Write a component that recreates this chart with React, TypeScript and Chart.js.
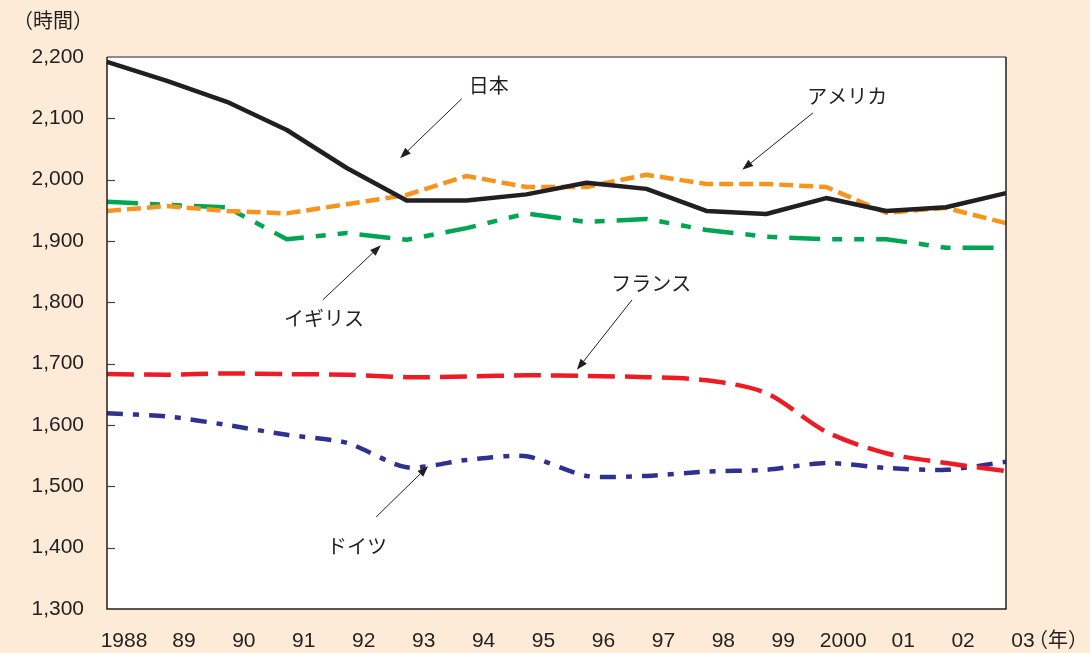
import React, { useEffect, useRef } from "react";
import { Chart, registerables } from "chart.js";

Chart.register(...registerables);

// Annual working hours by country, 1988–2003
const years = ["1988", "89", "90", "91", "92", "93", "94", "95", "96", "97", "98", "99", "2000", "01", "02", "03"];
const japan = [2192, 2161, 2127, 2081, 2019, 1966, 1966, 1976, 1995, 1985, 1949, 1944, 1970, 1949, 1955, 1978];
const usa = [1949, 1957, 1949, 1945, 1960, 1975, 2006, 1988, 1988, 2008, 1993, 1993, 1988, 1946, 1954, 1929];
const uk = [1964, 1959, 1955, 1903, 1913, 1902, 1921, 1945, 1931, 1936, 1918, 1907, 1903, 1903, 1889, 1889];
const france = [1683, 1682, 1684, 1683, 1682, 1678, 1679, 1681, 1680, 1678, 1673, 1652, 1589, 1554, 1538, 1525];
const germany = [1619, 1614, 1600, 1584, 1571, 1531, 1543, 1549, 1517, 1517, 1524, 1527, 1538, 1530, 1527, 1540];

const yMin = 1300;
const yMax = 2200;
const yStep = 100;

// Callout labels: text position and arrow (from → tip) in category-index / value units
const callouts = [
  { text: "日本", at: [6.37, 2151], from: [5.92, 2132], tip: [4.89, 2035] },
  { text: "アメリカ", at: [12.35, 2133], from: [11.78, 2109], tip: [10.6, 2016] },
  { text: "イギリス", at: [3.62, 1771], from: [3.6, 1804], tip: [4.57, 1893] },
  { text: "フランス", at: [9.08, 1827], from: [8.76, 1804], tip: [7.84, 1690] },
  { text: "ドイツ", at: [4.17, 1399], from: [4.49, 1450], tip: [5.36, 1533] },
];

const FONT = "'Liberation Sans', 'Noto Sans CJK JP', sans-serif";
const INK = "#231f20";
const BG = "#fdebd8";

const decorations = {
  id: "decorations",
  beforeDatasetsDraw(chart: any) {
    const { ctx, chartArea, scales } = chart;
    ctx.save();
    ctx.fillStyle = "#ffffff";
    ctx.fillRect(chartArea.left, chartArea.top, chartArea.right - chartArea.left, chartArea.bottom - chartArea.top);
    // inward tick marks on the value axis
    ctx.strokeStyle = "#444";
    ctx.lineWidth = 1.2;
    for (let v = yMin + yStep; v < yMax; v += yStep) {
      const y = Math.round(scales.y.getPixelForValue(v)) + 0.5;
      ctx.beginPath();
      ctx.moveTo(chartArea.left, y);
      ctx.lineTo(chartArea.left + 8, y);
      ctx.stroke();
    }
    ctx.restore();
  },
  afterDatasetsDraw(chart: any) {
    const { ctx, chartArea } = chart;
    const { left, right, top, bottom } = chartArea;
    ctx.save();
    // frame
    ctx.strokeStyle = "#8c8c8c";
    ctx.lineWidth = 2;
    ctx.beginPath();
    ctx.moveTo(left, top);
    ctx.lineTo(right, top);
    ctx.stroke();
    ctx.strokeStyle = INK;
    ctx.lineWidth = 1.5;
    ctx.beginPath();
    ctx.moveTo(left, top);
    ctx.lineTo(left, bottom);
    ctx.lineTo(right, bottom);
    ctx.lineTo(right, top);
    ctx.stroke();

    const px = (p: number[]) => {
      const x = left + (p[0] / (years.length - 1)) * (right - left);
      const y = chart.scales.y.getPixelForValue(p[1]);
      return [x, y];
    };

    ctx.font = `20px ${FONT}`;
    ctx.fillStyle = INK;
    ctx.textAlign = "center";
    ctx.textBaseline = "middle";
    ctx.strokeStyle = INK;
    ctx.lineWidth = 1;
    for (const c of callouts) {
      const [tx, ty] = px(c.at);
      ctx.fillText(c.text, tx, ty);
      const [x1, y1] = px(c.from);
      const [x2, y2] = px(c.tip);
      const ang = Math.atan2(y2 - y1, x2 - x1);
      const head = 11;
      const bx = x2 - head * Math.cos(ang);
      const by = y2 - head * Math.sin(ang);
      ctx.beginPath();
      ctx.moveTo(x1, y1);
      ctx.lineTo(bx, by);
      ctx.stroke();
      ctx.beginPath();
      ctx.moveTo(x2, y2);
      ctx.lineTo(bx + 4 * Math.sin(ang), by - 4 * Math.cos(ang));
      ctx.lineTo(bx - 4 * Math.sin(ang), by + 4 * Math.cos(ang));
      ctx.closePath();
      ctx.fill();
    }

    // unit captions
    ctx.font = `20px ${FONT}`;
    ctx.textAlign = "left";
    ctx.fillText("（時間）", 13, 22);
    ctx.textAlign = "right";
    ctx.fillText("（年）", 1088, 641);
    ctx.restore();
  },
};

export default function App() {
  const ref = useRef<HTMLCanvasElement>(null);

  useEffect(() => {
    if (!ref.current) return;
    const line = (label: string, data: number[], color: string, dash: number[], width: number, tension: number) => ({
      label,
      data,
      borderColor: color,
      backgroundColor: color,
      borderWidth: width,
      borderDash: dash,
      borderCapStyle: "butt" as const,
      borderJoinStyle: "round" as const,
      pointRadius: 0,
      tension,
      fill: false,
    });
    const chart = new Chart(ref.current, {
      type: "line",
      data: {
        labels: years,
        datasets: [
          line("日本", japan, "#231f20", [], 4.5, 0),
          line("アメリカ", usa, "#f7941d", [14, 6], 4.5, 0),
          line("イギリス", uk, "#00a651", [31, 12, 10, 12, 10, 12], 4.5, 0),
          line("フランス", france, "#ed1c24", [27, 10], 4.5, 0.3),
          line("ドイツ", germany, "#2e3192", [16, 10, 6, 10], 4.5, 0.25),
        ],
      },
      options: {
        animation: false,
        responsive: false,
        layout: { padding: { top: 57, right: 84, left: 0, bottom: 0 } },
        plugins: { legend: { display: false }, tooltip: { enabled: false } },
        scales: {
          x: {
            type: "category",
            offset: false,
            grid: { display: false, drawTicks: false },
            border: { display: false },
            ticks: {
              color: INK,
              font: { family: FONT, size: 21 },
              padding: 20,
              labelOffset: 17,
              autoSkip: false,
              maxRotation: 0,
            },
            afterFit: (s: any) => {
              s.height = 44;
            },
          },
          y: {
            min: yMin,
            max: yMax,
            grid: { display: false, drawTicks: false },
            border: { display: false },
            ticks: {
              stepSize: yStep,
              color: INK,
              font: { family: FONT, size: 21 },
              padding: 23,
              callback: (v: any) => Number(v).toLocaleString("en-US"),
            },
            afterFit: (s: any) => {
              s.width = 107;
            },
          },
        },
      },
      plugins: [decorations],
    });
    return () => chart.destroy();
  }, []);

  return (
    <div style={{ position: "absolute", left: 0, top: 0, width: 1090, height: 653, background: BG }}>
      <canvas ref={ref} width={1090} height={653} style={{ display: "block" }} />
    </div>
  );
}
